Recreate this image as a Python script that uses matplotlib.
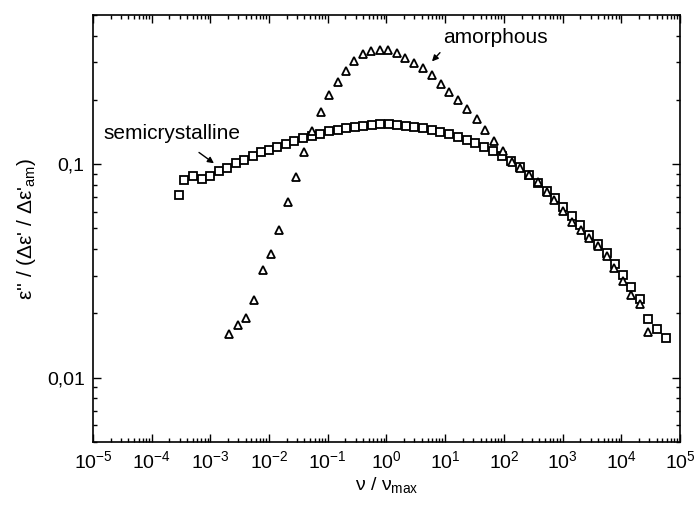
import matplotlib
matplotlib.use('Agg')
import matplotlib.pyplot as plt
import matplotlib.ticker as mticker
from matplotlib import rcParams

rcParams['font.family'] = ['Liberation Sans', 'DejaVu Sans']
rcParams['mathtext.fontset'] = 'custom'
rcParams['mathtext.rm'] = 'Liberation Sans'
rcParams['mathtext.it'] = 'Liberation Sans'
rcParams['font.size'] = 14

# semicrystalline sample (open squares)
semi_nu = [2.92e-4, 3.55e-4, 5.06e-4, 7.19e-4, 9.84e-4, 1.40e-3, 1.92e-3, 2.73e-3,
           3.73e-3, 5.32e-3, 7.28e-3, 9.96e-3, 1.36e-2, 1.94e-2, 2.66e-2, 3.78e-2,
           5.38e-2, 7.36e-2, 0.105, 0.149, 0.204, 0.291, 0.398, 0.566, 0.775,
           1.10, 1.51, 2.15, 2.94, 4.19, 5.96, 8.15, 11.6, 16.5, 23.5, 32.2, 45.8,
           65.2, 92.8, 132, 188, 268, 381, 542, 743, 1020, 1450, 1980, 2820, 4010,
           5710, 7810, 10700, 14600, 20800, 28500, 40600, 57800]
semi_eps = [0.0721, 0.0845, 0.0881, 0.0853, 0.0881, 0.0929, 0.0959, 0.101,
            0.105, 0.109, 0.114, 0.117, 0.121, 0.125, 0.129, 0.132,
            0.136, 0.139, 0.143, 0.145, 0.148, 0.149, 0.151, 0.153, 0.154,
            0.154, 0.153, 0.151, 0.149, 0.148, 0.145, 0.142, 0.139, 0.134, 0.130, 0.126, 0.121,
            0.115, 0.109, 0.103, 0.0969, 0.0891, 0.0818, 0.0752, 0.0691, 0.0628, 0.0571, 0.0519,
            0.0468, 0.0425, 0.0383, 0.0341, 0.0303, 0.0267, 0.0233, 0.0188, 0.0169, 0.0153]

# amorphous sample (open triangles)
amor_nu = [2.07e-3, 2.95e-3, 4.04e-3, 5.53e-3, 7.87e-3, 1.08e-2, 1.47e-2, 2.10e-2,
           2.87e-2, 3.93e-2, 5.38e-2, 7.66e-2, 0.105, 0.149, 0.204, 0.279, 0.398,
           0.545, 0.775, 1.06, 1.51, 2.07, 2.94, 4.19, 5.96, 8.48, 11.6, 16.5, 23.5,
           34.8, 47.6, 67.8, 96.6, 137, 188, 268, 381, 542, 713, 1020, 1450, 2060,
           2820, 4010, 5710, 7510, 10700, 14600, 20800, 28500]
amor_eps = [0.0161, 0.0177, 0.0191, 0.0230, 0.0320, 0.0378, 0.0493, 0.0662,
            0.0871, 0.114, 0.143, 0.175, 0.212, 0.243, 0.273, 0.303, 0.327,
            0.340, 0.344, 0.344, 0.333, 0.316, 0.297, 0.282, 0.262, 0.238, 0.218, 0.199, 0.181,
            0.163, 0.145, 0.129, 0.115, 0.102, 0.0959, 0.0891, 0.0827, 0.0744, 0.0677, 0.0602,
            0.0536, 0.0493, 0.0453, 0.0416, 0.0371, 0.0327, 0.0284, 0.0245, 0.0221, 0.0164]

y_ticks = [0.01, 0.1]
y_tick_labels = ['0,01', '0,1']


def main():
    fig = plt.figure(figsize=(6.98, 5.16), dpi=100)
    ax = fig.add_axes([0.1332, 0.1434, 0.841, 0.8276])

    ax.plot(semi_nu, semi_eps, ls='none', marker='s', ms=5.8,
            mfc='white', mec='black', mew=1.3)
    ax.plot(amor_nu, amor_eps, ls='none', marker='^', ms=6.4,
            mfc='white', mec='black', mew=1.3)

    ax.set_xscale('log')
    ax.set_yscale('log')
    ax.set_xlim(1e-5, 1e5)
    ax.set_ylim(0.005, 0.5)

    ax.xaxis.set_major_locator(mticker.LogLocator(base=10, numticks=20))
    ax.xaxis.set_major_formatter(mticker.LogFormatterMathtext())
    ax.xaxis.set_minor_locator(mticker.LogLocator(base=10, subs=range(2, 10), numticks=20))
    ax.xaxis.set_minor_formatter(mticker.NullFormatter())

    ax.yaxis.set_major_locator(mticker.FixedLocator(y_ticks))
    ax.yaxis.set_major_formatter(mticker.FixedFormatter(y_tick_labels))
    ax.yaxis.set_minor_locator(mticker.LogLocator(base=10, subs=range(2, 10), numticks=20))
    ax.yaxis.set_minor_formatter(mticker.NullFormatter())

    ax.tick_params(which='both', direction='in', top=True, right=True, width=1.0)
    ax.tick_params(which='major', length=6, labelsize=14, pad=6)
    ax.tick_params(which='minor', length=3)
    for s in ax.spines.values():
        s.set_linewidth(1.2)

    ax.set_xlabel(r'ν / ν$_{\rm max}$', fontsize=14, labelpad=2)
    ax.set_ylabel(r"ε'' / (Δε' / Δε'$_{\rm am}$)", fontsize=15, labelpad=6)

    ax.text(1.48e-5, 0.139, 'semicrystalline', fontsize=15, va='center', ha='left')
    ax.annotate('', xy=(1.15e-3, 0.101), xytext=(6.4e-4, 0.1135),
                arrowprops=dict(arrowstyle='-|>', color='black', lw=1.0,
                                mutation_scale=9, shrinkA=0, shrinkB=0))

    ax.text(9.2, 0.394, 'amorphous', fontsize=15, va='center', ha='left')
    ax.annotate('', xy=(5.96, 0.303), xytext=(8.15, 0.333),
                arrowprops=dict(arrowstyle='-|>', color='black', lw=1.0,
                                mutation_scale=9, shrinkA=0, shrinkB=0))

    fig.savefig('out.png', dpi=100)
    plt.close(fig)


if __name__ == '__main__':
    main()
